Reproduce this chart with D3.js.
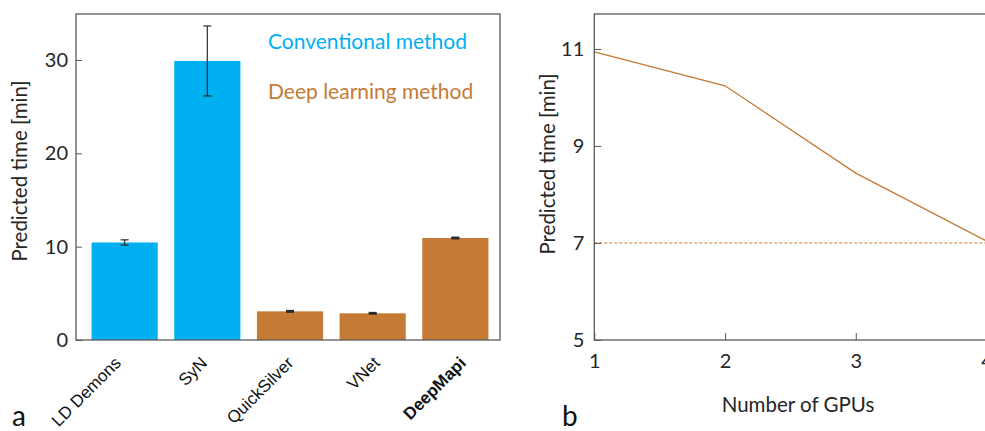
<!DOCTYPE html>
<html>
<head>
<meta charset="utf-8">
<script src="https://cdn.jsdelivr.net/npm/d3@7"></script>
<style>
  body { margin: 0; background: #fff; }
  svg { display: block; }
</style>
</head>
<body>
<div id="chart"></div>
<script>
// panel a: registration time per method
const methods = ["LD Demons", "SyN", "QuickSilver", "VNet", "DeepMapi"];
const methodTimes = [10.45, 29.9, 3.07, 2.86, 10.93];
const methodErrors = [0.28, 3.75, 0.05, 0.05, 0.05];
const methodKinds = ["conv", "conv", "deep", "deep", "deep"];
const yTicksA = [0, 10, 20, 30];

// panel b: time vs number of GPUs
const gpus = [1, 2, 3, 4];
const gpuTimes = [10.94, 10.24, 8.44, 7.04];
const targetTime = 7;
const yTicksB = [5, 7, 9, 11];

const legendLabels = ["Conventional method", "Deep learning method"];
const colors = { conv: "#00B0F0", deep: "#C57A35" };
const axisColor = "#595959";
const textColor = "#262626";
const font = "Lato, 'Open Sans', sans-serif";

const width = 985, height = 431;
const svg = d3.select("#chart").append("svg")
    .attr("width", width)
    .attr("height", height)
    .style("font-family", font);

// ---------- panel a ----------
const a = { left: 76, right: 500, top: 14, bottom: 340 };

const xA = d3.scaleBand()
    .domain(methods)
    .range([83.3, 496.7])
    .paddingInner(0.2)
    .paddingOuter(0.1);
// the rotated labels are spread a bit wider than the bars
const xLabel = d3.scalePoint().domain(methods).range([122, 467]);
const yA = d3.scaleLinear().domain([0, 34.93]).range([a.bottom, a.top]);

const gA = svg.append("g");

gA.selectAll("rect.bar")
  .data(methods)
  .enter().append("rect")
    .attr("class", "bar")
    .attr("x", d => xA(d))
    .attr("width", xA.bandwidth())
    .attr("y", (d, i) => yA(methodTimes[i]))
    .attr("height", (d, i) => yA(0) - yA(methodTimes[i]))
    .attr("fill", (d, i) => colors[methodKinds[i]]);

// error bars
const err = gA.selectAll("g.err")
  .data(methods)
  .enter().append("g")
    .attr("class", "err")
    .attr("stroke", "#2b2b2b");
err.append("line")
    .attr("x1", d => xA(d) + xA.bandwidth() / 2)
    .attr("x2", d => xA(d) + xA.bandwidth() / 2)
    .attr("y1", (d, i) => yA(methodTimes[i] + methodErrors[i]))
    .attr("y2", (d, i) => yA(methodTimes[i] - methodErrors[i]))
    .attr("stroke-width", 1.2);
[1, -1].forEach(s => {
  err.append("line")
      .attr("x1", d => xA(d) + xA.bandwidth() / 2 - 4)
      .attr("x2", d => xA(d) + xA.bandwidth() / 2 + 4)
      .attr("y1", (d, i) => yA(methodTimes[i] + s * methodErrors[i]))
      .attr("y2", (d, i) => yA(methodTimes[i] + s * methodErrors[i]))
      .attr("stroke-width", (d, i) => methodErrors[i] < 0.1 ? 2 : 1.2);
});

const axA = gA.append("g")
    .attr("transform", `translate(${a.left},0)`)
    .call(d3.axisLeft(yA).tickValues(yTicksA).tickSizeInner(-6).tickSizeOuter(0).tickPadding(8));
axA.select(".domain").remove();
axA.selectAll("line").attr("stroke", axisColor);
axA.selectAll("text").attr("fill", textColor).style("font-size", "20px").style("font-family", font);

gA.append("rect")
    .attr("x", a.left).attr("y", a.top)
    .attr("width", a.right - a.left).attr("height", a.bottom - a.top)
    .attr("fill", "none").attr("stroke", axisColor).attr("stroke-width", 1.3);

gA.selectAll("text.cat")
  .data(methods)
  .enter().append("text")
    .attr("class", "cat")
    .attr("transform", d => `translate(${xLabel(d)},364) rotate(-45)`)
    .attr("text-anchor", "end")
    .style("font-family", "'Liberation Sans', Arial, sans-serif")
    .style("font-size", "17px")
    .style("font-weight", (d, i) => i === methods.length - 1 ? "bold" : "normal")
    .attr("fill", "#111")
    .text(d => d);

gA.append("text")
    .attr("transform", `translate(27,171) rotate(-90)`)
    .attr("text-anchor", "middle")
    .style("font-size", "20.5px")
    .attr("fill", textColor)
    .text("Predicted time [min]");

gA.selectAll("text.legend")
  .data(legendLabels)
  .enter().append("text")
    .attr("class", "legend")
    .attr("x", 268)
    .attr("y", (d, i) => 49 + i * 50)
    .style("font-size", "21px")
    .attr("fill", (d, i) => i === 0 ? colors.conv : colors.deep)
    .text(d => d);

svg.append("text")
    .attr("x", 12).attr("y", 426)
    .style("font-size", "28px")
    .attr("fill", "#111")
    .text("a");

// ---------- panel b ----------
const b = { left: 594.3, right: 986.5, top: 14, bottom: 340 };

const xB = d3.scaleLinear().domain([1, 4]).range([b.left, b.right]);
const yB = d3.scaleLinear().domain([5, 11.72]).range([b.bottom, b.top]);

const gB = svg.append("g");

gB.append("line")
    .attr("x1", xB(1)).attr("x2", xB(4) + 20)
    .attr("y1", yB(targetTime)).attr("y2", yB(targetTime))
    .attr("stroke", colors.deep)
    .attr("stroke-width", 1)
    .attr("stroke-dasharray", "3,2");

gB.append("path")
    .datum(gpus)
    .attr("fill", "none")
    .attr("stroke", colors.deep)
    .attr("stroke-width", 1.3)
    .attr("d", d3.line().x(d => xB(d)).y((d, i) => yB(gpuTimes[i])));

const axBy = gB.append("g")
    .attr("transform", `translate(${b.left},0)`)
    .call(d3.axisLeft(yB).tickValues(yTicksB).tickFormat(d3.format("d"))
      .tickSizeInner(-7).tickSizeOuter(0).tickPadding(10));
axBy.select(".domain").remove();

const axBx = gB.append("g")
    .attr("transform", `translate(0,${b.bottom})`)
    .call(d3.axisBottom(xB).tickValues(gpus).tickFormat(d3.format("d"))
      .tickSizeInner(-7).tickSizeOuter(0).tickPadding(14));
axBx.select(".domain").remove();

[axBy, axBx].forEach(ax => {
  ax.selectAll("line").attr("stroke", axisColor);
  ax.selectAll("text").attr("fill", textColor).style("font-size", "20px").style("font-family", font);
});

gB.append("rect")
    .attr("x", b.left).attr("y", b.top)
    .attr("width", b.right + 10 - b.left).attr("height", b.bottom - b.top)
    .attr("fill", "none").attr("stroke", axisColor).attr("stroke-width", 1.3);

gB.append("text")
    .attr("transform", `translate(555,164) rotate(-90)`)
    .attr("text-anchor", "middle")
    .style("font-size", "20.5px")
    .attr("fill", textColor)
    .text("Predicted time [min]");

gB.append("text")
    .attr("x", 798).attr("y", 412)
    .attr("text-anchor", "middle")
    .style("font-size", "20.5px")
    .attr("fill", textColor)
    .text("Number of GPUs");

svg.append("text")
    .attr("x", 562).attr("y", 426)
    .style("font-size", "28px")
    .attr("fill", "#111")
    .text("b");
</script>
</body>
</html>
